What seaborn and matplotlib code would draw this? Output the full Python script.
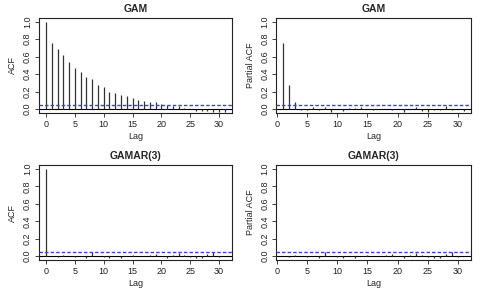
import numpy as np
import matplotlib
matplotlib.use("Agg")
import matplotlib.pyplot as plt
import seaborn as sns
import pandas as pd

# ---- data ----
acf_lags = list(range(0, 32))
pacf_lags = list(range(1, 32))

gam_acf = [1.0, 0.76, 0.69, 0.62, 0.54, 0.47, 0.42, 0.37, 0.34, 0.28, 0.25, 0.20,
           0.18, 0.155, 0.145, 0.125, 0.105, 0.095, 0.08, 0.075, 0.06, 0.04, 0.03,
           0.03, 0.01, -0.005, -0.02, -0.025, -0.025, -0.03, -0.03, -0.03]
gam_pacf = [0.76, 0.27, 0.085, -0.015, -0.01, 0.02, -0.015, 0.025, -0.04, 0.005,
            -0.02, 0.015, 0.01, 0.02, 0.0, -0.01, -0.005, 0.0, -0.01, 0.0, -0.035,
            0.0, 0.025, -0.02, -0.03, -0.01, -0.015, 0.03, -0.01, 0.005, -0.02]
ar_acf = [1.0, 0.005, -0.01, 0.01, 0.005, -0.01, 0.0, -0.02, 0.045, 0.005, -0.01,
          -0.025, 0.0, -0.02, 0.005, 0.01, 0.0, 0.005, 0.01, 0.02, 0.0, -0.025, 0.01,
          0.04, 0.01, -0.01, -0.02, -0.02, 0.02, 0.05, -0.01, 0.005]
ar_pacf = [0.005, -0.01, 0.01, 0.005, -0.01, 0.0, -0.02, 0.045, 0.005, -0.01,
           -0.025, 0.0, -0.02, 0.005, 0.01, 0.0, 0.005, 0.01, 0.02, 0.0, -0.025, 0.01,
           0.04, 0.01, -0.01, -0.02, -0.02, 0.02, 0.05, -0.01, 0.005]
ci_level = 0.05

titles = ["GAM", "GAM", "GAMAR(3)", "GAMAR(3)"]
ylabels = ["ACF", "Partial ACF", "ACF", "Partial ACF"]
xticks = [0, 5, 10, 15, 20, 25, 30]
yticks = [0.0, 0.2, 0.4, 0.6, 0.8, 1.0]

sns.set_theme(style="white")
plt.rcParams['font.family'] = ['Liberation Sans', 'DejaVu Sans']

fig = plt.figure(figsize=(4.81, 2.88), dpi=100)
positions = [
    [0.081, 0.608, 0.401, 0.330],
    [0.574, 0.608, 0.405, 0.330],
    [0.081, 0.097, 0.401, 0.330],
    [0.574, 0.097, 0.405, 0.330],
]
datasets = [(acf_lags, gam_acf), (pacf_lags, gam_pacf),
            (acf_lags, ar_acf), (pacf_lags, ar_pacf)]

for pos, (lags, vals), title, ylab in zip(positions, datasets, titles, ylabels):
    ax = fig.add_axes(pos)
    df = pd.DataFrame({"lag": lags, "value": vals})
    if min(lags) == 1:
        xmin, xmax = -0.2, 32.2
    else:
        xmin, xmax = -1.24, 32.24
    ax.set_xlim(xmin, xmax)
    ax.set_ylim(-0.045, 1.045)
    ax.axhline(0, color="black", linewidth=0.8, zorder=1)
    ax.vlines(df["lag"], 0, df["value"], color="#333333", linewidth=0.9, zorder=2)
    ax.axhline(ci_level, color="#3f3fe6", linewidth=1.0,
               linestyle=(0, (2.5, 1.5)), zorder=3)
    sns.despine(ax=ax, top=False, right=False)
    ax.set_xticks(xticks)
    ax.set_yticks(yticks)
    ax.set_yticklabels([f"{t:.1f}" for t in yticks], rotation=90, va="center")
    ax.tick_params(axis="both", direction="out", length=3, width=0.6,
                   labelsize=6.5, pad=2, colors="#222222", left=True, bottom=True)
    for s in ax.spines.values():
        s.set_color("#222222")
        s.set_linewidth(0.8)
    ax.set_title(title, fontsize=7.5, fontweight="bold", pad=4)
    ax.set_xlabel("Lag", fontsize=6.5, labelpad=2)
    ax.set_ylabel(ylab, fontsize=6.5, labelpad=4)

fig.savefig("out.png", dpi=100)
